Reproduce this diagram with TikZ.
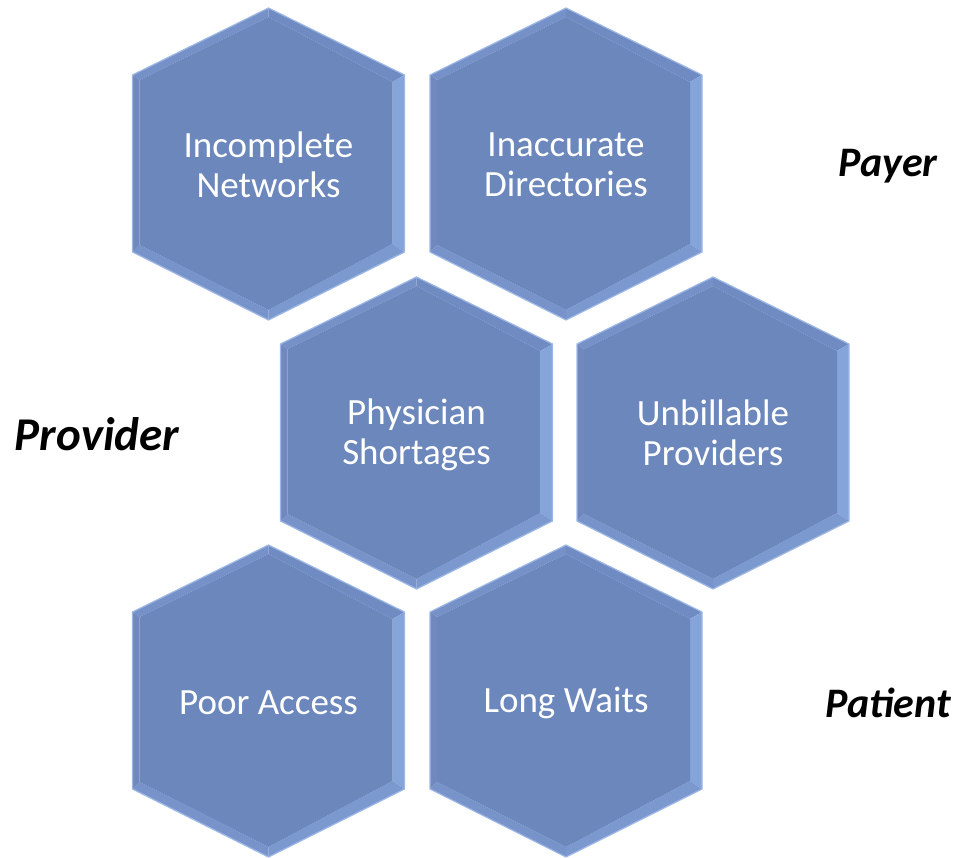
\documentclass[tikz,border=0pt]{standalone}
\usepackage{fontspec}
\setmainfont{Carlito}
\definecolor{hexfill}{HTML}{6B87BB}
\definecolor{hexline}{HTML}{9DB8E6}
\definecolor{facetTL}{HTML}{7691C8}
\definecolor{facetTR}{HTML}{6F8BC1}
\definecolor{facetR}{HTML}{85A4DA}
\definecolor{facetBR}{HTML}{7B98CF}
\definecolor{facetBL}{HTML}{7893CA}
\definecolor{facetL}{HTML}{7088BE}
\tikzset{
  hextext/.style={text=white, align=center, font=\fontsize{37}{40}\selectfont, inner sep=0pt},
  sidelabel/.style={text=black, font=\fontsize{42}{44}\selectfont\bfseries\itshape, inner sep=0pt},
  biglabel/.style={sidelabel, font=\fontsize{47}{50}\selectfont\bfseries\itshape},
  hexborder/.style={draw=hexline, line width=1.2pt, line join=miter},
}
\newcommand\hexcell[5]{%
\begin{scope}[shift={(#2,#3)}]
  \coordinate (o1) at (0,156);
  \coordinate (o2) at (136,89);
  \coordinate (o3) at (136,-88);
  \coordinate (o4) at (0,-156);
  \coordinate (o5) at (-136,-88);
  \coordinate (o6) at (-136,89);
  \coordinate (i1) at (0,147);
  \coordinate (i2) at (124,82);
  \coordinate (i3) at (124,-80);
  \coordinate (i4) at (0,-146);
  \coordinate (i5) at (-129,-81);
  \coordinate (i6) at (-129,84);
  \fill[facetTL] (o6)--(o1)--(i1)--(i6)--cycle;
  \fill[facetTR] (o1)--(o2)--(i2)--(i1)--cycle;
  \fill[facetR] (o2)--(o3)--(i3)--(i2)--cycle;
  \fill[facetBR] (o3)--(o4)--(i4)--(i3)--cycle;
  \fill[facetBL] (o4)--(o5)--(i5)--(i4)--cycle;
  \fill[facetL] (o5)--(o6)--(i6)--(i5)--cycle;
  \fill[hexfill] (i1)--(i2)--(i3)--(i4)--(i5)--(i6)--cycle;
  \draw[hexborder] (o1)--(o2)--(o3)--(o4)--(o5)--(o6)--cycle;
  \node[hextext] (#1) at (0,#5) {#4};
\end{scope}
}
\begin{document}
\begin{tikzpicture}[x=1pt,y=1pt]
\useasboundingbox (0,0) rectangle (955,857);
\hexcell{incomplete}{268.5}{693}{Incomplete\\Networks}{-1}
\hexcell{inaccurate}{566}{693}{Inaccurate\\Directories}{-1}
\hexcell{physician}{416.5}{424}{Physician\\Shortages}{-2}
\hexcell{unbillable}{713}{424}{Unbillable\\Providers}{0}
\hexcell{poor}{268.5}{156}{Poor Access}{-2}
\hexcell{long}{566}{156}{Long Waits}{-2}
\node[sidelabel] (payer) at (888,691) {Payer};
\node[biglabel] (provider) at (97,423) {Provider};
\node[sidelabel] (patient) at (888,154) {Patient};
\end{tikzpicture}
\end{document}
